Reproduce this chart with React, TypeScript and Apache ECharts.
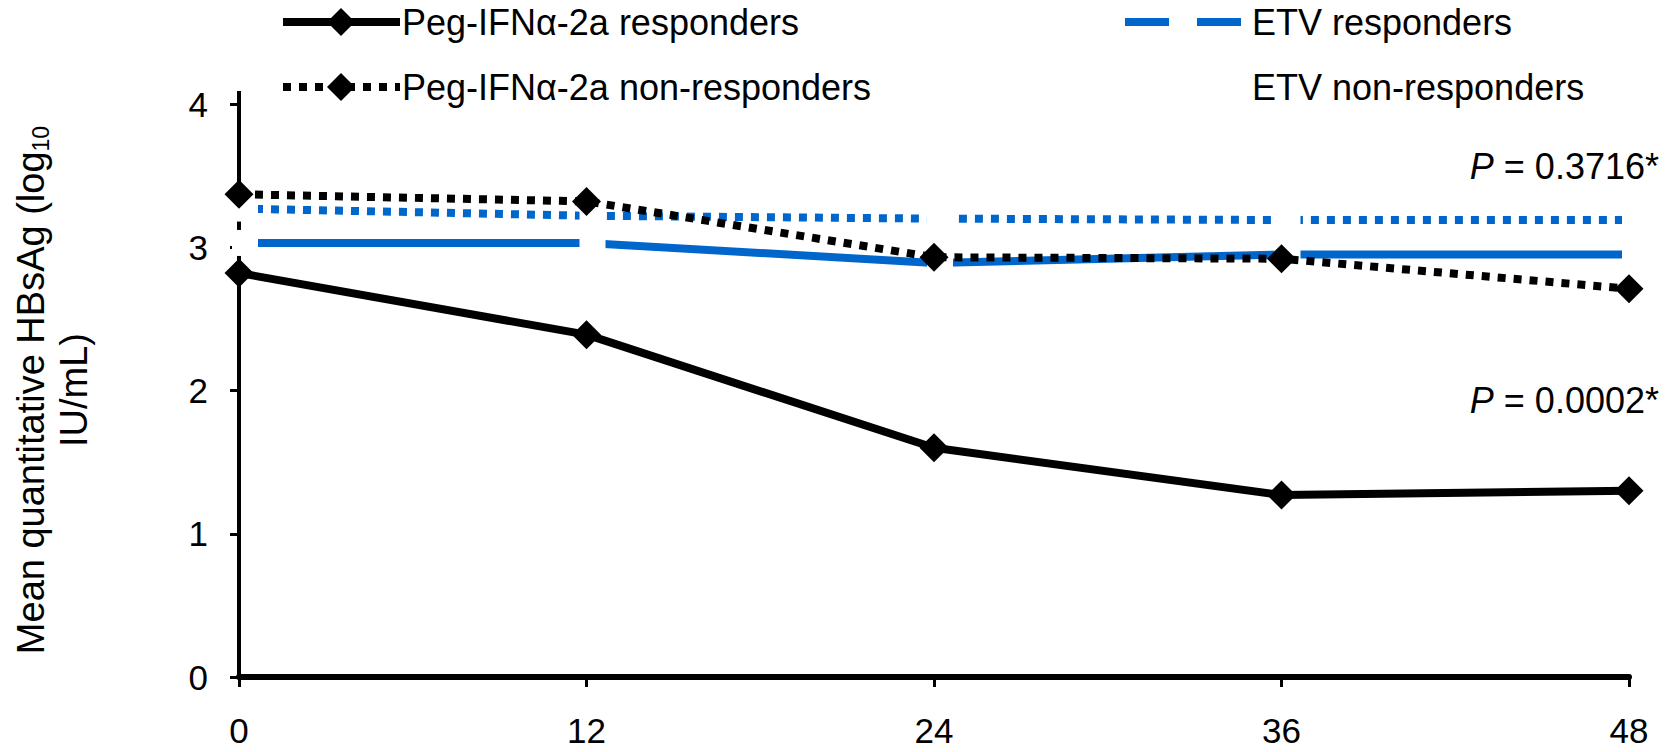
import React, { useEffect, useRef } from 'react';
import * as echarts from 'echarts';

const weeks = [0, 12, 24, 36, 48];
const pegResponders = [2.82, 2.39, 1.6, 1.27, 1.3];
const pegNonResponders = [3.37, 3.32, 2.93, 2.92, 2.71];
const etvResponders = [3.03, 3.03, 2.89, 2.95, 2.95];
const etvNonResponders = [3.27, 3.22, 3.2, 3.19, 3.19];
const xTickLabels = ['0', '12', '24', '36', '48'];
const yTickLabels = ['0', '1', '2', '3', '4'];
const legendNames = [
  'Peg-IFNα-2a responders',
  'Peg-IFNα-2a non-responders',
  'ETV responders',
  'ETV non-responders',
];
const pValueTexts = ['0.3716*', '0.0002*'];
const yTitleLine1 = 'Mean quantitative HBsAg (log';
const yTitleSub = '10';
const yTitleLine2 = 'IU/mL)';

const FONT = "'Liberation Sans', Arial, sans-serif";
const BLUE = '#0066cc';
const LABEL_SIZE = 35;
const TEXT_SIZE = 36;

const pairs = (vals: number[]) => weeks.map((w, i) => [w, vals[i]]);

const diamond = (cx: number, cy: number, r: number) => ({
  type: 'polygon',
  shape: { points: [[cx, cy - r], [cx + r, cy], [cx, cy + r], [cx - r, cy]] },
  style: { fill: '#000' },
  z: 10,
});

export default function App() {
  const ref = useRef<HTMLDivElement>(null);
  useEffect(() => {
    if (!ref.current) return;
    const chart = echarts.init(ref.current, undefined, { renderer: 'svg' });
    const textBase = { fontFamily: FONT, fontSize: TEXT_SIZE, fill: '#000' };
    const option: any = {
      animation: false,
      grid: { left: 239, right: 44, top: 104, bottom: 75, containLabel: false },
      xAxis: {
        type: 'value',
        min: 0,
        max: 48,
        interval: 12,
        axisLine: { show: true, lineStyle: { color: '#000', width: 6 } },
        axisTick: { show: true, length: 10, lineStyle: { color: '#000', width: 3 } },
        axisLabel: {
          margin: 37,
          fontSize: LABEL_SIZE,
          lineHeight: 32,
          fontFamily: FONT,
          color: '#000',
          formatter: (v: number) => xTickLabels[weeks.indexOf(v)] ?? String(v),
        },
        splitLine: { show: false },
      },
      yAxis: {
        type: 'value',
        min: 0,
        max: 4,
        interval: 1,
        axisLine: { show: true, lineStyle: { color: '#000', width: 4 } },
        axisTick: { show: true, length: 9, lineStyle: { color: '#000', width: 3 } },
        axisLabel: {
          margin: 31,
          fontSize: LABEL_SIZE,
          fontFamily: FONT,
          color: '#000',
          formatter: (v: number) => yTickLabels[v] ?? String(v),
        },
        splitLine: { show: false },
      },
      series: [
        {
          name: legendNames[3],
          type: 'line',
          data: pairs(etvNonResponders),
          clip: false,
          z: 2,
          symbol: 'rect',
          symbolSize: 26,
          symbolOffset: [6, 0],
          itemStyle: { color: '#fff', borderWidth: 0 },
          lineStyle: { color: BLUE, width: 8, type: [8, 8], cap: 'butt' },
        },
        {
          name: legendNames[2],
          type: 'line',
          data: pairs(etvResponders),
          clip: false,
          z: 2,
          symbol: 'rect',
          symbolSize: 26,
          symbolOffset: [6, 0],
          itemStyle: { color: '#fff', borderWidth: 0 },
          lineStyle: { color: BLUE, width: 8, type: 'solid' },
        },
        {
          name: legendNames[1],
          type: 'line',
          data: pairs(pegNonResponders),
          clip: false,
          z: 3,
          symbol: 'diamond',
          symbolSize: 29,
          itemStyle: { color: '#000' },
          lineStyle: { color: '#000', width: 8, type: [8, 8], cap: 'butt' },
        },
        {
          name: legendNames[0],
          type: 'line',
          data: pairs(pegResponders),
          clip: false,
          z: 3,
          symbol: 'diamond',
          symbolSize: 29,
          itemStyle: { color: '#000' },
          lineStyle: { color: '#000', width: 8, type: 'solid' },
        },
      ],
      graphic: [
        { type: 'line', shape: { x1: 239, y1: 91, x2: 239, y2: 104 }, style: { stroke: '#000', lineWidth: 4 } },
        { type: 'line', shape: { x1: 283, y1: 22, x2: 400, y2: 22 }, style: { stroke: '#000', lineWidth: 8 } },
        diamond(341, 22, 14),
        { type: 'text', x: 402, y: 22, style: { ...textBase, text: legendNames[0], align: 'left', verticalAlign: 'middle' } },
        { type: 'line', shape: { x1: 283, y1: 87, x2: 400, y2: 87 }, style: { stroke: '#000', lineWidth: 8, lineDash: [8, 8] } },
        diamond(341, 87, 14),
        { type: 'text', x: 402, y: 87, style: { ...textBase, text: legendNames[1], align: 'left', verticalAlign: 'middle' } },
        { type: 'line', shape: { x1: 1125, y1: 22, x2: 1169, y2: 22 }, style: { stroke: BLUE, lineWidth: 8 } },
        { type: 'line', shape: { x1: 1197, y1: 22, x2: 1241, y2: 22 }, style: { stroke: BLUE, lineWidth: 8 } },
        { type: 'text', x: 1252, y: 22, style: { ...textBase, text: legendNames[2], align: 'left', verticalAlign: 'middle' } },
        { type: 'text', x: 1252, y: 87, style: { ...textBase, text: legendNames[3], align: 'left', verticalAlign: 'middle' } },
        {
          type: 'text',
          x: 52,
          y: 390,
          rotation: Math.PI / 2,
          style: {
            text: `${yTitleLine1}{sub|${yTitleSub}}\n${yTitleLine2}`,
            fontFamily: FONT,
            fontSize: 38,
            fill: '#000',
            align: 'center',
            verticalAlign: 'middle',
            lineHeight: 43,
            rich: {
              sub: { fontFamily: FONT, fontSize: 23, fill: '#000', verticalAlign: 'bottom', lineHeight: 43 },
            },
          },
        },
        {
          type: 'text',
          x: 1659,
          y: 166,
          style: {
            text: `{i|P} = ${pValueTexts[0]}`,
            ...textBase,
            align: 'right',
            verticalAlign: 'middle',
            rich: { i: { fontFamily: FONT, fontSize: TEXT_SIZE, fontStyle: 'italic', fill: '#000' } },
          },
        },
        {
          type: 'text',
          x: 1659,
          y: 400,
          style: {
            text: `{i|P} = ${pValueTexts[1]}`,
            ...textBase,
            align: 'right',
            verticalAlign: 'middle',
            rich: { i: { fontFamily: FONT, fontSize: TEXT_SIZE, fontStyle: 'italic', fill: '#000' } },
          },
        },
      ],
    };
    chart.setOption(option);
    return () => chart.dispose();
  }, []);
  return <div ref={ref} style={{ width: 1673, height: 752, margin: -8 }} />;
}
